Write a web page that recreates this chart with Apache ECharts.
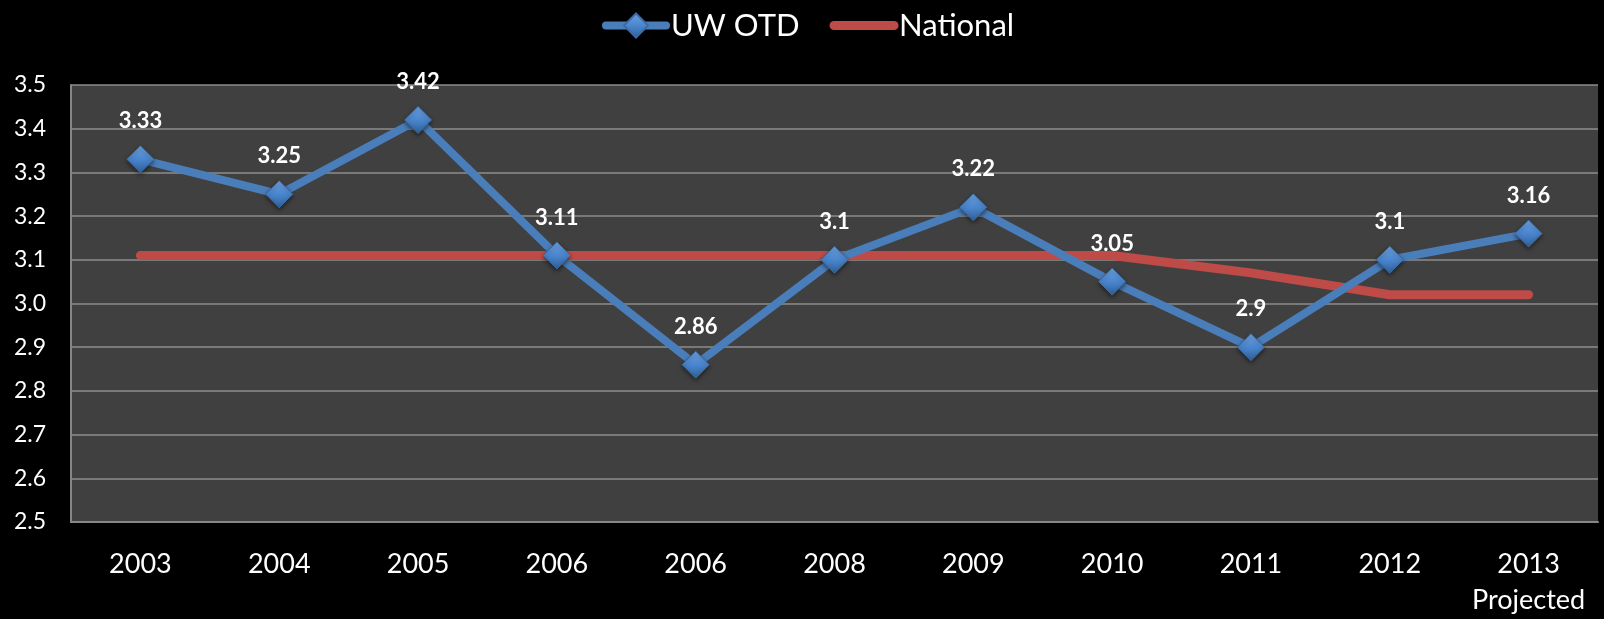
<!DOCTYPE html>
<html>
<head>
<meta charset="utf-8">
<script src="https://cdn.jsdelivr.net/npm/echarts@6/dist/echarts.min.js"></script>
<style>
  html, body { margin: 0; padding: 0; background: #000; }
  #chart { width: 1604px; height: 619px; }
</style>
</head>
<body>
<div id="chart"></div>
<script>
const years = ['2003', '2004', '2005', '2006', '2006', '2008', '2009', '2010', '2011', '2012', '2013\nProjected'];
const uwOtd = [3.33, 3.25, 3.42, 3.11, 2.86, 3.1, 3.22, 3.05, 2.9, 3.1, 3.16];
const national = [3.11, 3.11, 3.11, 3.11, 3.11, 3.11, 3.11, 3.11, 3.07, 3.02, 3.02];

const font = 'Lato, "Open Sans", sans-serif';

const chart = echarts.init(document.getElementById('chart'));

chart.setOption({
  backgroundColor: '#000',
  animation: false,
  textStyle: { fontFamily: font },
  legend: {
    top: 5,
    left: 597,
    itemWidth: 60,
    itemHeight: 30,
    itemGap: 30,
    textStyle: { color: '#fff', fontSize: 31, fontFamily: font },
    lineStyle: { width: 8, cap: 'round' },
    data: [
      { name: 'UW OTD' },
      { name: 'National', itemStyle: { opacity: 0 }, lineStyle: { width: 9, cap: 'round' } }
    ]
  },
  grid: {
    left: 71,
    right: 6,
    top: 85,
    bottom: 97,
    show: true,
    backgroundColor: '#404040',
    borderWidth: 0
  },
  xAxis: {
    type: 'category',
    data: years,
    boundaryGap: true,
    axisLine: { show: true, lineStyle: { color: '#868686', width: 2 } },
    axisTick: { show: false },
    axisLabel: {
      color: '#fff',
      fontSize: 27,
      margin: 24,
      lineHeight: 36,
      interval: 0
    }
  },
  yAxis: {
    type: 'value',
    min: 2.5,
    max: 3.5,
    interval: 0.1,
    axisLine: { show: true, lineStyle: { color: '#868686', width: 2 } },
    axisTick: { show: false },
    splitLine: { lineStyle: { color: '#8c8c8c', width: 1.5 } },
    axisLabel: {
      color: '#fff',
      fontSize: 23,
      margin: 25,
      formatter: v => v.toFixed(1)
    }
  },
  series: [
    {
      name: 'UW OTD',
      type: 'line',
      data: uwOtd,
      symbol: 'diamond',
      symbolSize: 27,
      lineStyle: { color: '#4a7ebb', width: 8 },
      itemStyle: {
        color: new echarts.graphic.LinearGradient(0, 0, 0, 1, [
          { offset: 0, color: '#6fa3e0' },
          { offset: 0.5, color: '#4a86cf' },
          { offset: 1, color: '#2f5f97' }
        ]),
        borderColor: '#3a6ba5',
        borderWidth: 1,
        shadowColor: 'rgba(0,0,0,0.5)',
        shadowBlur: 4,
        shadowOffsetY: 2
      },
      label: {
        show: true,
        position: 'top',
        distance: 13,
        color: '#fff',
        fontWeight: 'bold',
        fontSize: 22,
        fontFamily: font
      },
      z: 3
    },
    {
      name: 'National',
      type: 'line',
      data: national,
      symbol: 'none',
      lineStyle: { color: '#be4b48', width: 9, cap: 'round', join: 'round' },
      itemStyle: { color: '#be4b48' },
      z: 2
    }
  ]
});
</script>
</body>
</html>
